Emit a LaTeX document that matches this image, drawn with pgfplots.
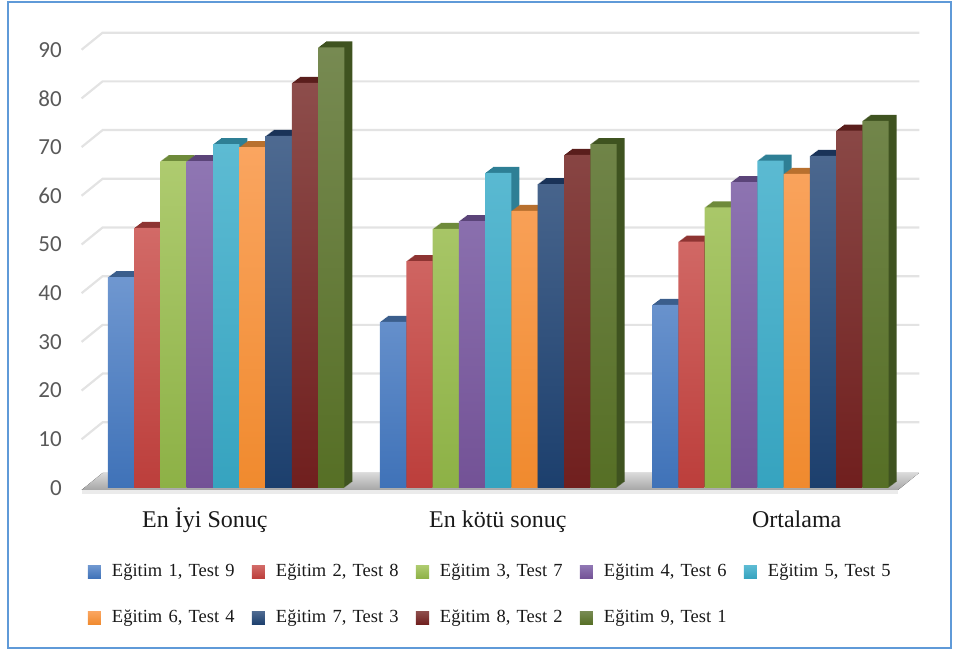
\documentclass[border=0pt]{standalone}
\usepackage{fontspec}
\setmainfont{Liberation Serif}
\newfontfamily\calibri{Carlito}
\usepackage{pgfplots}
\usepackage{pgfplotstable}
\pgfplotsset{compat=1.18}

% face colours: top and bottom of the front gradient, depth faces, legend swatch
\definecolor{t1}{HTML}{6F97D0}\definecolor{b1}{HTML}{3F72B8}\definecolor{d1}{HTML}{3B5E8C}\definecolor{l1}{HTML}{4F81BD}
\definecolor{t2}{HTML}{D26A67}\definecolor{b2}{HTML}{BC3E3B}\definecolor{d2}{HTML}{8E3432}\definecolor{l2}{HTML}{C0504D}
\definecolor{t3}{HTML}{AECB6F}\definecolor{b3}{HTML}{8DB146}\definecolor{d3}{HTML}{6E8A3A}\definecolor{l3}{HTML}{9BBB59}
\definecolor{t4}{HTML}{8F76B3}\definecolor{b4}{HTML}{735296}\definecolor{d4}{HTML}{5B4479}\definecolor{l4}{HTML}{8064A2}
\definecolor{t5}{HTML}{5DBBD3}\definecolor{b5}{HTML}{36A3BF}\definecolor{d5}{HTML}{2E7F95}\definecolor{l5}{HTML}{4BACC6}
\definecolor{t6}{HTML}{FAA560}\definecolor{b6}{HTML}{F08A2E}\definecolor{d6}{HTML}{B8702E}\definecolor{l6}{HTML}{F79646}
\definecolor{t7}{HTML}{4E6A91}\definecolor{b7}{HTML}{1C3F6D}\definecolor{d7}{HTML}{1A3358}\definecolor{l7}{HTML}{2C4D75}
\definecolor{t8}{HTML}{8D4D4B}\definecolor{b8}{HTML}{701F1E}\definecolor{d8}{HTML}{5A1E1C}\definecolor{l8}{HTML}{772C2A}
\definecolor{t9}{HTML}{778A52}\definecolor{b9}{HTML}{566F25}\definecolor{d9}{HTML}{3F5320}\definecolor{l9}{HTML}{5F7530}
\definecolor{gridc}{HTML}{E3E3E3}
\definecolor{framec}{HTML}{5F9AD8}
\definecolor{tickc}{HTML}{595959}

% one row per category (0 = En İyi Sonuç, 1 = En kötü sonuç, 2 = Ortalama)
\pgfplotstableread{
g  s1   s2   s3   s4   s5   s6   s7   s8   s9
0  43.3 53.4 67.1 67.1 70.6 70.0 72.3 83.2 90.5
1  34.1 46.6 53.2 54.8 64.7 56.9 62.4 68.4 70.6
2  37.6 50.6 57.6 62.8 67.2 64.5 68.2 73.4 75.4
}\scores

% extruded side and cap of series #1, built from shifted copies
\newcommand\depthbars[2]{%
  \pgfplotsinvokeforeach{1,...,8}{%
    \addplot[ybar, bar width=1, bar shift=0pt, fill=#2, draw=none, forget plot,
      xshift=##1pt, yshift=0.75*##1pt]
      table[x expr=\thisrow{g}*10.35+#1-1, y=s#1]{\scores};
  }%
}
% front face of series #1
\newcommand\frontbars[5]{%
  \addplot[ybar, bar width=1, bar shift=0pt, draw=none, top color=#2, bottom color=#3,
    legend image code/.code={\fill[#4] (0pt,-6.5pt) rectangle (13pt,6.5pt);}]
    table[x expr=\thisrow{g}*10.35+#1-1, y=s#1]{\scores};
  \addlegendentry{#5}%
}

\begin{document}
\begin{tikzpicture}
\path (-85pt,-164pt) rectangle (868pt,488pt);
\begin{axis}[
  at={(0pt,0pt)}, anchor=south west,
  scale only axis, width=830pt, height=438.3pt,
  xmin=-1.37, xmax=30.2, ymin=0, ymax=90,
  clip=false,
  axis line style={draw=none},
  major tick length=0pt,
  ytick={0,10,...,90},
  yticklabel style={font=\calibri\fontsize{23}{26}\selectfont, text=tickc,
    anchor=east, inner sep=0pt, xshift=-23pt},
  /pgf/number format/assume math mode=true,
  xtick={3.19,14.33,25.7},
  xticklabels={En İyi Sonuç, En kötü sonuç, Ortalama},
  xticklabel style={font=\fontsize{24}{28}\selectfont, text=black!90,
    anchor=base, inner sep=0pt, yshift=-40pt},
  legend columns=5,
  legend style={draw=none, fill=none, inner sep=0pt, outer sep=0pt,
    at={([xshift=3pt,yshift=-74.5pt]axis description cs:0,0)}, anchor=north west,
    font=\fontsize{18.5}{22}\selectfont, text=black!90,
    column sep=0pt, row sep=27pt,
    nodes={text height=13pt, text depth=4pt, inner sep=1pt, text width=125pt, align=left},
    /tikz/every odd column/.append style={column sep=10pt},
    /tikz/every even column/.append style={column sep=14pt}},
  legend cell align=left,
]
% back wall grid and side wall edges
\pgfplotsinvokeforeach{10,20,...,90}{%
  \draw[gridc, line width=2.2pt] (axis cs:-1.5,#1) -- ++(21pt,17pt) -- ([yshift=17pt]axis cs:30.37,#1);
}
% floor, with its light front edge
\fill[gridc!70] ([yshift=-6pt]axis cs:-1.5,0) -- ([yshift=-6pt]axis cs:29.55,0)
  -- ([yshift=-2pt]axis cs:29.55,0) -- ([yshift=-2pt]axis cs:-1.5,0) -- cycle;
\fill[top color=gray!30, bottom color=gray!70]
  ([yshift=-2pt]axis cs:-1.5,0) -- ([yshift=-2pt]axis cs:29.55,0)
  -- ([xshift=21pt,yshift=15pt]axis cs:29.55,0) -- ([xshift=21pt,yshift=15pt]axis cs:-1.5,0) -- cycle;

\depthbars{1}{d1}\depthbars{2}{d2}\depthbars{3}{d3}
\depthbars{4}{d4}\depthbars{5}{d5}\depthbars{6}{d6}
\depthbars{7}{d7}\depthbars{8}{d8}\depthbars{9}{d9}

\frontbars{1}{t1}{b1}{l1}{Eğitim 1, Test 9}
\frontbars{2}{t2}{b2}{l2}{Eğitim 2, Test 8}
\frontbars{3}{t3}{b3}{l3}{Eğitim 3, Test 7}
\frontbars{4}{t4}{b4}{l4}{Eğitim 4, Test 6}
\frontbars{5}{t5}{b5}{l5}{Eğitim 5, Test 5}
\frontbars{6}{t6}{b6}{l6}{Eğitim 6, Test 4}
\frontbars{7}{t7}{b7}{l7}{Eğitim 7, Test 3}
\frontbars{8}{t8}{b8}{l8}{Eğitim 8, Test 2}
\frontbars{9}{t9}{b9}{l9}{Eğitim 9, Test 1}
\end{axis}
\draw[framec, line width=2pt] (-77pt,-160pt) rectangle (866pt,486pt);
\end{tikzpicture}
\end{document}
